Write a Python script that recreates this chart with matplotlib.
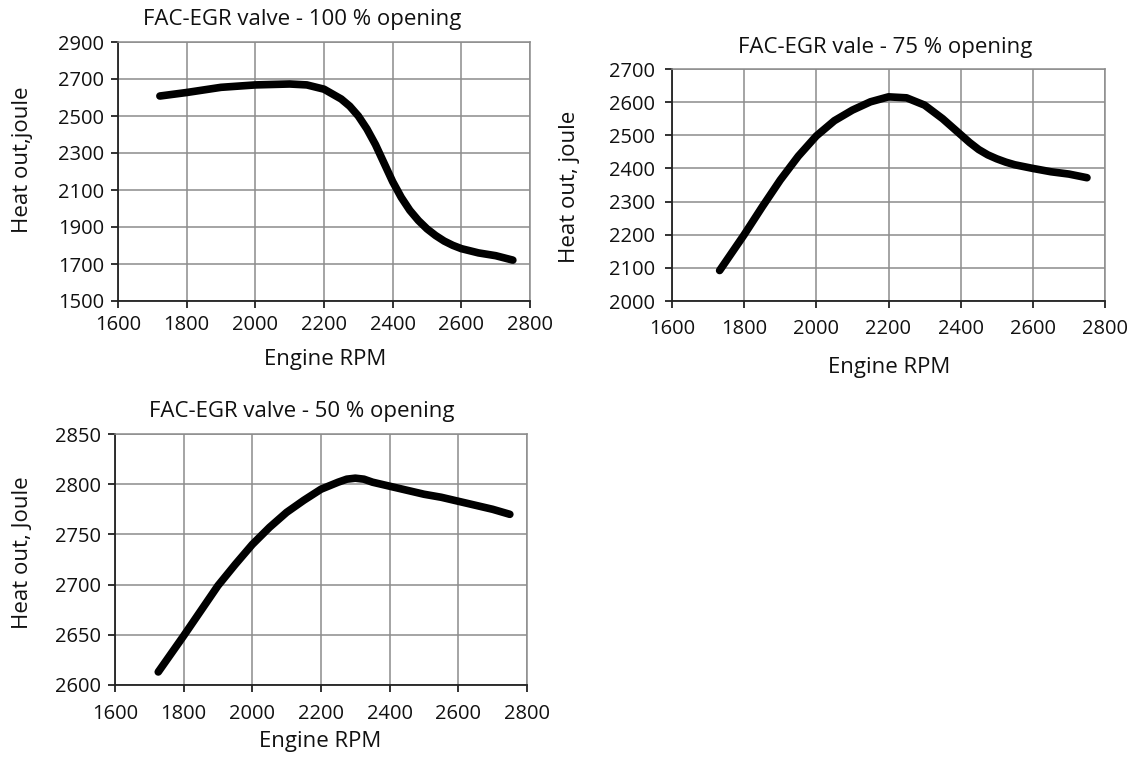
import matplotlib
matplotlib.use("Agg")
import matplotlib.pyplot as plt

plt.rcParams['font.family'] = ['Open Sans', 'DejaVu Sans']

# ---------------- data ----------------
rpm_100 = [1722, 1800, 1900, 2000, 2100, 2150, 2200, 2250, 2275, 2300, 2325,
           2350, 2375, 2400, 2425, 2450, 2475, 2500, 2525, 2550, 2575, 2600,
           2650, 2700, 2750]
heat_100 = [2608, 2627, 2655, 2668, 2673, 2668, 2645, 2592, 2553, 2500, 2430,
            2345, 2245, 2145, 2060, 1990, 1935, 1890, 1854, 1824, 1801, 1783,
            1760, 1745, 1721]

rpm_75 = [1732, 1800, 1850, 1900, 1950, 2000, 2050, 2100, 2150, 2200, 2250,
          2300, 2350, 2400, 2425, 2450, 2475, 2500, 2525, 2550, 2600, 2650,
          2700, 2750]
heat_75 = [2092, 2200, 2284, 2365, 2437, 2498, 2544, 2576, 2601, 2616, 2613,
           2591, 2550, 2502, 2478, 2457, 2441, 2429, 2419, 2411, 2400, 2390,
           2383, 2372]

rpm_50 = [1726, 1800, 1850, 1900, 1950, 2000, 2050, 2100, 2150, 2200, 2250,
          2275, 2300, 2325, 2350, 2400, 2450, 2500, 2550, 2600, 2650, 2700,
          2750]
heat_50 = [2613, 2649, 2674, 2699, 2720, 2740, 2757, 2772, 2784, 2795, 2802,
           2805, 2806, 2805, 2802, 2798, 2794, 2790, 2787, 2783, 2779, 2775,
           2770]

xticks = [1600, 1800, 2000, 2200, 2400, 2600, 2800]
yticks_100 = [1500, 1700, 1900, 2100, 2300, 2500, 2700, 2900]
yticks_75 = [2000, 2100, 2200, 2300, 2400, 2500, 2600, 2700]
yticks_50 = [2600, 2650, 2700, 2750, 2800, 2850]

titles = ["FAC-EGR valve - 100 % opening", "FAC-EGR vale - 75 % opening",
          "FAC-EGR valve - 50 % opening"]
ylabels = ["Heat out,joule", "Heat out, joule", "Heat out, Joule"]
xlabel = "Engine RPM"

# ---------------- figure ----------------
W, H = 1139, 759
fig = plt.figure(figsize=(W / 100, H / 100), dpi=100)

def px_axes(l, t, r, b):
    return fig.add_axes([l / W, 1 - b / H, (r - l) / W, (b - t) / H])

specs = [
    ((118, 42, 530, 301), rpm_100, heat_100, yticks_100, (302, 20), (325, 360), (23, 160), 5, 5),
    ((672, 69, 1105, 301), rpm_75, heat_75, yticks_75, (885, 47), (889, 368), (569, 187), 8, 7),
    ((115, 434, 527, 685), rpm_50, heat_50, yticks_50, (302, 412), (320, 742), (23, 553), 9, 5),
]

grid_col = '#8c8c8c'
for i, (box, xs, ys, yt, tpos, xlpos, ylpos, xpad, ypad) in enumerate(specs):
    l, t, r, b = box
    ax = px_axes(l, t, r, b)
    ax.plot(xs, ys, color='black', lw=5.5, solid_capstyle='round',
            solid_joinstyle='round', zorder=3)
    ax.set_xlim(1600, 2800)
    ax.set_ylim(yt[0], yt[-1])
    ax.set_xticks(xticks)
    ax.set_yticks(yt)
    ax.grid(True, color=grid_col, lw=1.1)
    ax.set_axisbelow(True)
    for s in ['top', 'right']:
        ax.spines[s].set_color(grid_col)
        ax.spines[s].set_linewidth(1.1)
    for s in ['left', 'bottom']:
        ax.spines[s].set_color('#222222')
        ax.spines[s].set_linewidth(1.3)
    ax.tick_params(axis='both', direction='out', length=5, width=1.3,
                   color='#222222', labelsize=14.5, labelcolor='#111111')
    ax.tick_params(axis='x', pad=xpad)
    ax.tick_params(axis='y', pad=ypad)

    w, h = r - l, b - t
    ax.set_title(titles[i], fontsize=16, color='#111111', pad=0,
                 x=(tpos[0] - l) / w, y=(b - tpos[1]) / h, va='center')
    ax.set_xlabel(xlabel, fontsize=16, color='#111111', va='center')
    ax.xaxis.set_label_coords((xlpos[0] - l) / w, (b - xlpos[1]) / h)
    ax.set_ylabel(ylabels[i], fontsize=16, color='#111111', va='center')
    ax.yaxis.set_label_coords((ylpos[0] - l) / w, (b - ylpos[1]) / h)

fig.savefig("out.png", dpi=100, facecolor='white')
